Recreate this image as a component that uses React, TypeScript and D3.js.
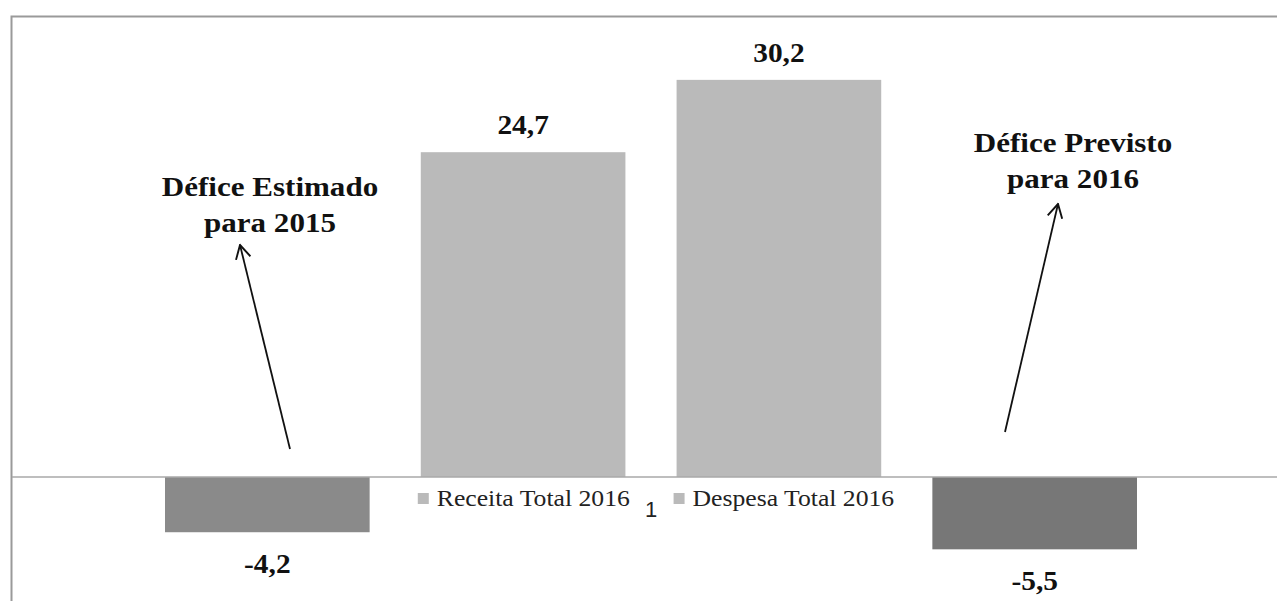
import React, { useEffect, useRef } from 'react';
import * as d3 from 'd3';

// Series shown as four bars in a single category ("1")
const seriesNames = ['Défice 2015', 'Receita Total 2016', 'Despesa Total 2016', 'Défice 2016'];
const seriesValues = [-4.2, 24.7, 30.2, -5.5];
const seriesColors = ['#8a8a8a', '#bababa', '#bababa', '#777777'];
const valueLabels = ['-4,2', '24,7', '30,2', '-5,5'];
const categoryLabel = '1';

// Only these entries are kept in the legend
const legendNames = ['Receita Total 2016', 'Despesa Total 2016'];

// Arrow annotations: which bar they point from, and the text they point to
const annotationBars = ['Défice 2015', 'Défice 2016'];
const annotationLines = [
  ['Défice Estimado', 'para 2015'],
  ['Défice Previsto', 'para 2016'],
];

export default function App() {
  const svgRef = useRef<SVGSVGElement>(null);
  const width = 1277;
  const height = 601;

  useEffect(() => {
    if (!svgRef.current) return;
    const svg = d3.select(svgRef.current);
    svg.selectAll('*').remove();

    const serif = '"Liberation Serif", "Times New Roman", serif';

    // Scales
    const x = d3.scaleBand<string>()
      .domain(seriesNames)
      .range([165, 1137])
      .paddingInner(0.2)
      .paddingOuter(0);

    const y = d3.scaleLinear()
      .domain([-8, 32])
      .range([582.2, 56.2]);

    // Chart frame
    svg.append('rect')
      .attr('x', 11.5)
      .attr('y', 16.5)
      .attr('width', width + 20)
      .attr('height', height + 20)
      .attr('fill', 'white')
      .attr('stroke', '#9a9a9a')
      .attr('stroke-width', 2);

    // Bars
    svg.append('g')
      .selectAll('rect')
      .data(seriesNames)
      .join('rect')
      .attr('x', d => x(d)!)
      .attr('width', x.bandwidth())
      .attr('y', (d, i) => y(Math.max(0, seriesValues[i])))
      .attr('height', (d, i) => Math.abs(y(seriesValues[i]) - y(0)))
      .attr('fill', (d, i) => seriesColors[i]);

    // Zero line (category axis)
    svg.append('line')
      .attr('x1', 12)
      .attr('x2', width)
      .attr('y1', y(0))
      .attr('y2', y(0))
      .attr('stroke', '#a8a8a8')
      .attr('stroke-width', 1.5);

    // the source picture is a bit stretched sideways, so text gets a small x-scale
    const stretched = (px: number, py: number, sx: number) =>
      svg.append('g').attr('transform', `translate(${px},${py}) scale(${sx},1)`);

    // Value labels
    seriesNames.forEach((d, i) => {
      const v = seriesValues[i];
      const ly = v >= 0 ? y(v) - 18 : y(v) + 41;
      stretched(x(d)! + x.bandwidth() / 2, ly, 1.05)
        .append('text')
        .attr('text-anchor', 'middle')
        .attr('font-family', serif)
        .attr('font-weight', 'bold')
        .attr('font-size', 28)
        .attr('fill', '#111')
        .text(valueLabels[i]);
    });

    // Category label
    const mid = (x(seriesNames[1])! + x.bandwidth() + x(seriesNames[2])!) / 2;
    svg.append('text')
      .attr('x', mid)
      .attr('y', 517)
      .attr('text-anchor', 'middle')
      .attr('font-family', '"Liberation Sans", Arial, sans-serif')
      .attr('font-size', 22)
      .attr('fill', '#222')
      .text(categoryLabel);

    // Legend (placed under the two positive bars)
    legendNames.forEach(name => {
      const i = seriesNames.indexOf(name);
      const lx = x(name)! - 3;
      const row = svg.append('g').attr('transform', `translate(${lx}, 493)`);
      row.append('rect')
        .attr('width', 11)
        .attr('height', 11)
        .attr('fill', seriesColors[i]);
      row.append('g')
        .attr('transform', 'translate(19,13) scale(1.07,1)')
        .append('text')
        .attr('font-family', serif)
        .attr('font-size', 24)
        .attr('fill', '#222')
        .text(name);
    });

    // Arrow annotations
    const defs = svg.append('defs');
    defs.append('marker')
      .attr('id', 'open-arrow')
      .attr('viewBox', '0 0 12 12')
      .attr('refX', 11)
      .attr('refY', 6)
      .attr('markerWidth', 9)
      .attr('markerHeight', 9)
      .attr('markerUnits', 'strokeWidth')
      .attr('orient', 'auto')
      .append('path')
      .attr('d', 'M1,0.5 L11,6 L1,11.5')
      .attr('fill', 'none')
      .attr('stroke', '#111')
      .attr('stroke-width', 1.4);

    const arrowTails = [[290, 449], [1005, 432]];
    const arrowTips = [[240, 245], [1058, 204]];
    const textBaselines = [196, 152];
    const textCenters = [270, 1073];

    annotationBars.forEach((bar, k) => {
      svg.append('line')
        .attr('x1', arrowTails[k][0])
        .attr('y1', arrowTails[k][1])
        .attr('x2', arrowTips[k][0])
        .attr('y2', arrowTips[k][1])
        .attr('stroke', '#111')
        .attr('stroke-width', 1.8)
        .attr('marker-end', 'url(#open-arrow)');

      const t = stretched(textCenters[k], textBaselines[k], 1.15)
        .append('text')
        .attr('text-anchor', 'middle')
        .attr('font-family', serif)
        .attr('font-weight', 'bold')
        .attr('font-size', 27)
        .attr('fill', '#111');
      annotationLines[k].forEach((line, j) => {
        t.append('tspan')
          .attr('x', 0)
          .attr('y', j * 36)
          .text(line);
      });
    });
  }, []);

  return (
    <div style={{ position: 'absolute', left: 0, top: 0 }}>
      <svg ref={svgRef} width={width} height={height} style={{ display: 'block', background: 'white' }}></svg>
    </div>
  );
}
